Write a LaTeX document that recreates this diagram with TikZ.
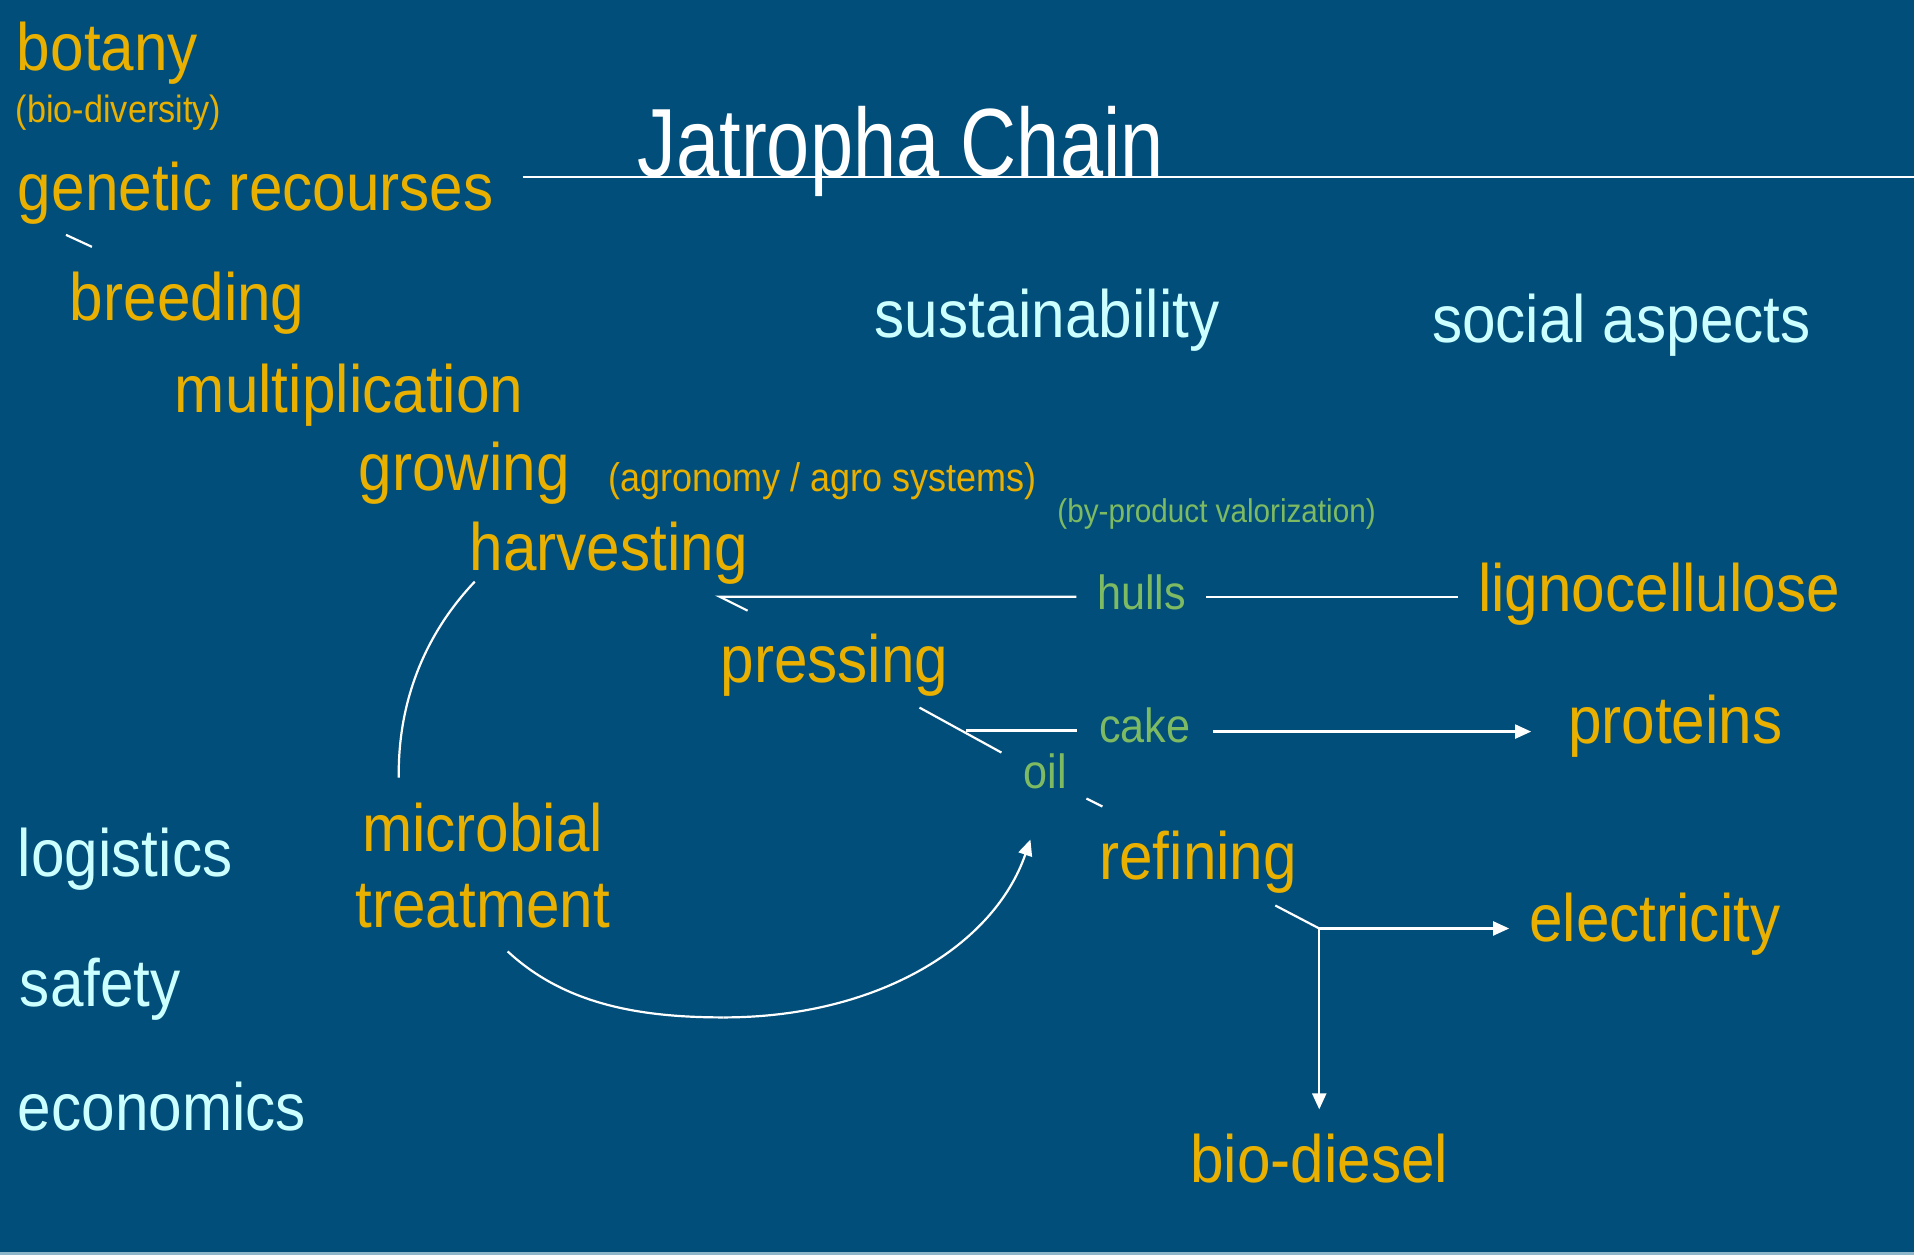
\documentclass[tikz,border=0pt]{standalone}
\usepackage{fontspec}
\setmainfont{Liberation Sans}[FakeStretch=0.9]
\newfontfamily\titlefont{Liberation Sans}[FakeStretch=0.8]
\usetikzlibrary{arrows.meta}
\definecolor{bg}{HTML}{014E7A}
\definecolor{ylw}{HTML}{E9B000}
\definecolor{cyn}{HTML}{CCFFFF}
\definecolor{grn}{HTML}{7DBA62}
\definecolor{edgeband}{HTML}{8DB6CA}
\begin{document}
\begin{tikzpicture}[x=0.5pt,y=-0.5pt,
  lbl/.style={anchor=base west,inner sep=0,outer sep=0},
  big/.style={lbl,font=\fontsize{33.5}{38}\selectfont},
  stage/.style={big,text=ylw},
  aspect/.style={big,text=cyn},
  byprod/.style={lbl,text=grn,font=\fontsize{24}{28}\selectfont},
  note/.style={lbl,text=ylw,font=\fontsize{20}{24}\selectfont},
  conn/.style={draw=white,line width=1.1pt},
  arr/.style={conn,-{Triangle[length=8pt,width=7pt]}}]
\fill[bg] (0,0) rectangle (1915,1256);
\fill[edgeband] (0,1253) rectangle (1915,1256);
% title
\coordinate (tl1) at (523,177);
\coordinate (tl2) at (1915,177);
\draw[conn] (tl1) -- (tl2);
\node[lbl,text=white,font=\titlefont\fontsize{48.5}{52}\selectfont] (title) at (638,177) {Jatropha Chain};
% chain stages
\node[stage] (botany) at (17,71) {botany};
\node[lbl,text=ylw,font=\fontsize{19}{22}\selectfont] (biodiv) at (16,123) {(bio-diversity)};
\node[stage] (genetic) at (18,211) {genetic recourses};
\node[stage] (breeding) at (70,321) {breeding};
\node[stage] (multi) at (175,413) {multiplication};
\node[stage] (growing) at (359,491) {growing};
\node[note] (agro) at (609,492) {(agronomy / agro systems)};
\node[lbl,text=grn,font=\fontsize{16.5}{20}\selectfont] (byval) at (1058,523) {(by-product valorization)};
\node[stage] (harvest) at (470,571) {harvesting};
\node[byprod] (hulls) at (1098,610) {hulls};
\node[stage] (ligno) at (1479,612) {lignocellulose};
\node[stage] (pressing) at (721,683) {pressing};
\node[byprod] (cake) at (1100,743) {cake};
\node[stage] (proteins) at (1569,744) {proteins};
\node[byprod] (oil) at (1024,789) {oil};
\node[stage] (refining) at (1100,880) {refining};
\node[stage] (electric) at (1530,942) {electricity};
\node[stage] (biodiesel) at (1191,1183) {bio-diesel};
\node[big,text=ylw,anchor=north,align=center] (microbial) at (483,803) {microbial\\treatment};
% aspects
\node[aspect] (sustain) at (875,338) {sustainability};
\node[aspect] (social) at (1433,343) {social aspects};
\node[aspect] (logistics) at (18,877) {logistics};
\node[aspect] (safety) at (20,1007) {safety};
\node[aspect] (economics) at (18,1131) {economics};
% connectors
\coordinate (gb1) at (66,235);
\coordinate (gb2) at (92,247);
\draw[conn] (gb1) -- (gb2);
\coordinate (ph1) at (748,611);
\coordinate (ph2) at (720,597);
\coordinate (hl1) at (1077,597);
\draw[conn] (ph1) -- (ph2) -- (hl1);
\coordinate (hl2) at (1207,597);
\coordinate (hl3) at (1459,597);
\draw[conn] (hl2) -- (hl3);
\coordinate (po1) at (920,708);
\coordinate (po2) at (1002,753);
\draw[conn] (po1) -- (po2);
\coordinate (pc1) at (967,731);
\coordinate (pc2) at (1078,731);
\draw[conn] (pc1) -- (pc2);
\coordinate (cp1) at (1214,732);
\coordinate (cp2) at (1532,732);
\draw[arr] (cp1) -- (cp2);
\coordinate (or1) at (1087,799);
\coordinate (or2) at (1103,807);
\draw[conn] (or1) -- (or2);
\coordinate (rj1) at (1276,906);
\coordinate (junc) at (1320,929);
\coordinate (el) at (1510,929);
\coordinate (bd) at (1320,1110);
\draw[conn] (rj1) -- (junc);
\draw[arr] (junc) -- (el);
\draw[arr] (junc) -- (bd);
% curves
\coordinate (hm1) at (475,582);
\coordinate (hm2) at (399,778);
\draw[conn] (hm1) .. controls (420,640) and (398,710) .. (hm2);
\coordinate (mo1) at (508,952);
\coordinate (mobot) at (724,1018);
\coordinate (mo2) at (1031,840);
\draw[conn] (mo1) .. controls (565,1005) and (640,1018) .. (mobot);
\draw[arr] (mobot) .. controls (880,1018) and (995,945) .. (mo2);
\end{tikzpicture}
\end{document}
